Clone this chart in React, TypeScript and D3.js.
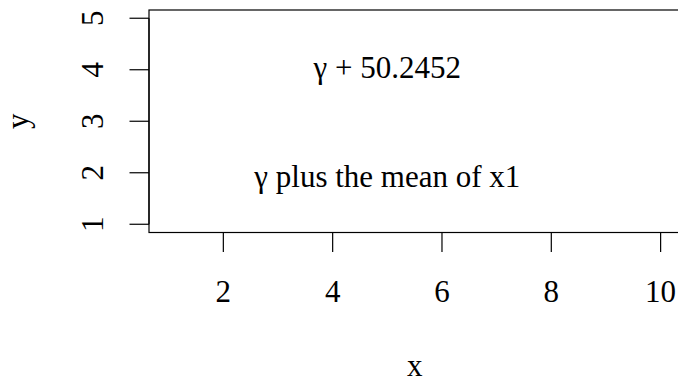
import React from "react";
import * as d3 from "d3";

const width = 678;
const height = 383;

// axis ticks
const xTicks = [2, 4, 6, 8, 10];
const yTicks = [1, 2, 3, 4, 5];

// data range (R extends it by 4%)
const xRange = [1, 10];
const yRange = [1, 5];

// annotations
const labels = [
  { x: 5, y: 4, parts: ["γ", " + ", "50.2452"], dy: 8 },
  { x: 5, y: 2, parts: ["γ", " ", "plus the mean of x1"], dy: 14 },
];

const font = "'Liberation Serif', 'Times New Roman', serif";
const fs = 31;

export default function App() {
  const margin = { left: 149, top: 10 };
  const plotW = 680.3 - margin.left;
  const plotH = 232.5 - margin.top;

  const padX = (xRange[1] - xRange[0]) * 0.04;
  const padY = (yRange[1] - yRange[0]) * 0.04;

  const x = d3
    .scaleLinear()
    .domain([xRange[0] - padX, xRange[1] + padX])
    .range([margin.left, margin.left + plotW]);
  const y = d3
    .scaleLinear()
    .domain([yRange[0] - padY, yRange[1] + padY])
    .range([margin.top + plotH, margin.top]);

  const bottom = margin.top + plotH;
  const tickLen = 19.5;

  return (
    <svg
      width={width}
      height={height}
      style={{ position: "absolute", left: 0, top: 0, background: "#fff" }}
      fontFamily={font}
      fontSize={fs}
    >
      <rect
        x={margin.left}
        y={margin.top}
        width={plotW}
        height={plotH}
        fill="none"
        stroke="#000"
        strokeWidth={1.2}
      />

      {/* x axis */}
      <line
        x1={x(xTicks[0])}
        x2={x(xTicks[xTicks.length - 1])}
        y1={bottom}
        y2={bottom}
        stroke="#000"
        strokeWidth={1.2}
      />
      {xTicks.map((t) => (
        <g key={"x" + t}>
          <line x1={x(t)} x2={x(t)} y1={bottom} y2={bottom + tickLen} stroke="#000" strokeWidth={1.2} />
          <text x={x(t)} y={302} textAnchor="middle">
            {t}
          </text>
        </g>
      ))}
      <text x={(x.range()[0] + x.range()[1]) / 2} y={376} textAnchor="middle">
        x
      </text>

      {/* y axis */}
      <line
        x1={margin.left}
        x2={margin.left}
        y1={y(yTicks[0])}
        y2={y(yTicks[yTicks.length - 1])}
        stroke="#000"
        strokeWidth={1.2}
      />
      {yTicks.map((t) => (
        <g key={"y" + t}>
          <line x1={margin.left - tickLen} x2={margin.left} y1={y(t)} y2={y(t)} stroke="#000" strokeWidth={1.2} />
          <text transform={`translate(103,${y(t)}) rotate(-90)`} textAnchor="middle">
            {t}
          </text>
        </g>
      ))}
      <text transform={`translate(28,${(y.range()[0] + y.range()[1]) / 2}) rotate(-90)`} textAnchor="middle">
        y
      </text>

      {/* annotations */}
      {labels.map((l, i) => (
        <text key={i} x={x(l.x)} y={y(l.y) + l.dy} textAnchor="middle" xmlSpace="preserve">
          {l.parts.join("")}
        </text>
      ))}
    </svg>
  );
}
